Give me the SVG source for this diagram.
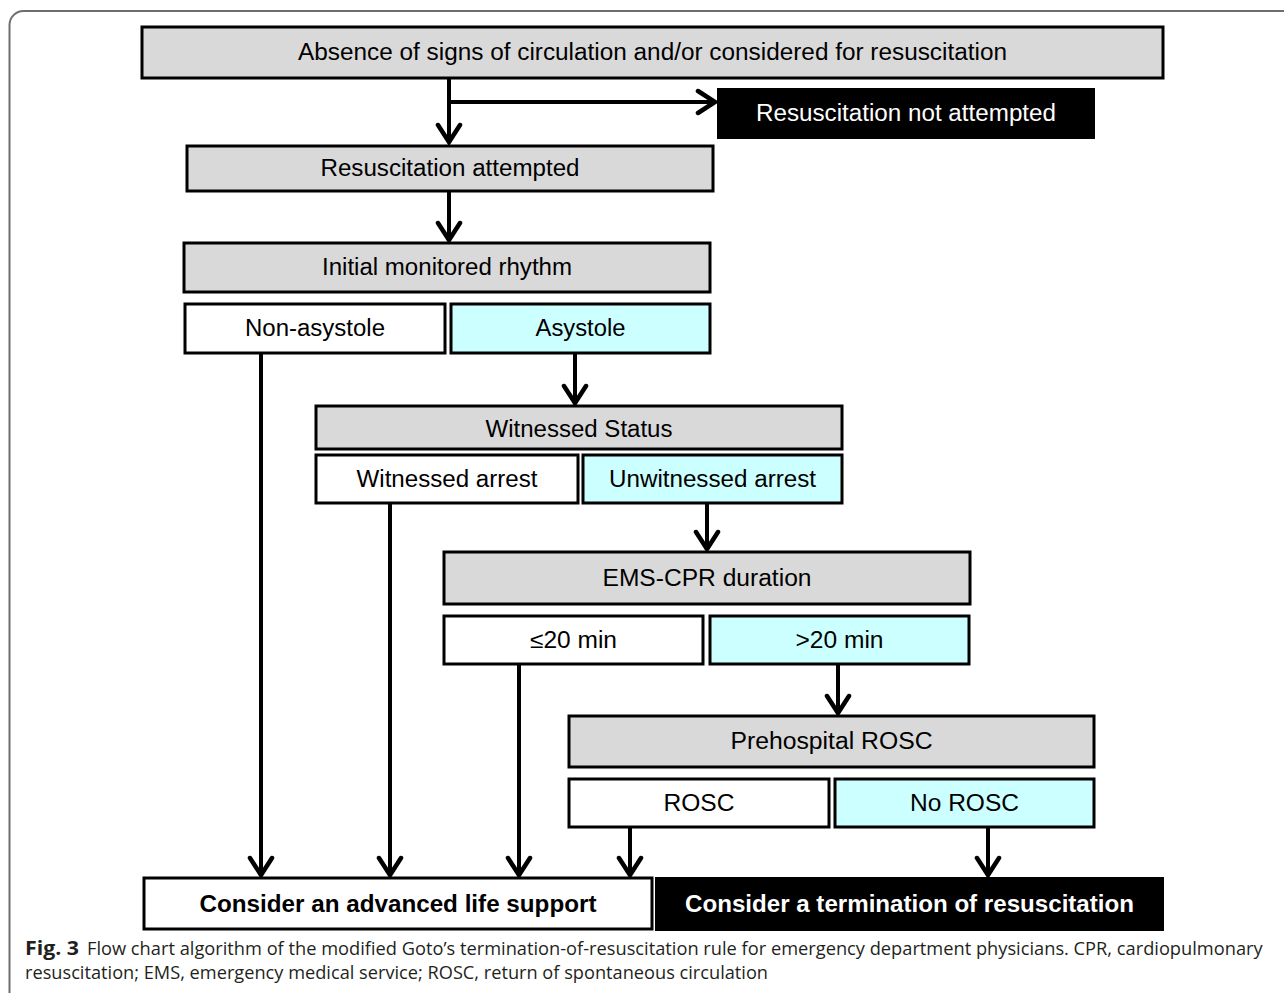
<svg xmlns="http://www.w3.org/2000/svg" width="1284" height="993" viewBox="0 0 1284 993">
<style>
.box{stroke:#000;stroke-width:3}
.gray{fill:#d9d9d9}
.white{fill:#fff}
.cyan{fill:#ccffff}
.black{fill:#000}
.t{font-family:"Liberation Sans",Arial,sans-serif;font-size:23px;fill:#000;text-anchor:middle}
.tw{fill:#fff}
.b{font-weight:bold}
.conn line{stroke:#000;stroke-width:4;fill:none}
.cap{font-family:"Open Sans","Noto Sans",sans-serif;font-size:19px;fill:#231f20}
</style>
<defs>
<marker id="ah" viewBox="-24 -14 28 28" refX="0" refY="0" markerWidth="28" markerHeight="28" markerUnits="userSpaceOnUse" orient="auto">
<path d="M-18,-11 L-1,0 L-18,11" fill="none" stroke="#000" stroke-width="4.5" stroke-linecap="round"/>
</marker>
</defs>
<rect x="0" y="0" width="1284" height="993" fill="#fff"/>
<rect x="9.5" y="11" width="1320" height="1020" rx="14" fill="none" stroke="#6e6e6e" stroke-width="2"/>

<g class="conn">
<line x1="449" y1="78" x2="449" y2="143" marker-end="url(#ah)"/>
<line x1="449" y1="102" x2="716" y2="102" marker-end="url(#ah)"/>
<line x1="449" y1="191" x2="449" y2="241" marker-end="url(#ah)"/>
<line x1="575" y1="353" x2="575" y2="404" marker-end="url(#ah)"/>
<line x1="261" y1="353" x2="261" y2="876" marker-end="url(#ah)"/>
<line x1="390" y1="503" x2="390" y2="876" marker-end="url(#ah)"/>
<line x1="707" y1="503" x2="707" y2="550" marker-end="url(#ah)"/>
<line x1="519" y1="664" x2="519" y2="876" marker-end="url(#ah)"/>
<line x1="838" y1="664" x2="838" y2="714" marker-end="url(#ah)"/>
<line x1="630" y1="827" x2="630" y2="876" marker-end="url(#ah)"/>
<line x1="988" y1="827" x2="988" y2="876" marker-end="url(#ah)"/>
</g>

<g id="n-absence"><rect class="box gray" x="142" y="27" width="1021" height="51"/><text class="t" x="652.5" y="60" textLength="709" lengthAdjust="spacingAndGlyphs">Absence of signs of circulation and/or considered for resuscitation</text></g>
<g id="n-not-attempted"><rect class="black" x="717" y="88" width="378" height="51"/><text class="t tw" x="906" y="121" textLength="300" lengthAdjust="spacingAndGlyphs">Resuscitation not attempted</text></g>
<g id="n-attempted"><rect class="box gray" x="187" y="146" width="526" height="45"/><text class="t" x="450" y="176" textLength="259" lengthAdjust="spacingAndGlyphs">Resuscitation attempted</text></g>
<g id="n-rhythm"><rect class="box gray" x="184" y="243" width="526" height="49"/><text class="t" x="447" y="275" textLength="250" lengthAdjust="spacingAndGlyphs">Initial monitored rhythm</text></g>
<g id="n-nonasystole"><rect class="box white" x="185" y="304" width="260" height="49"/><text class="t" x="315" y="336" textLength="140" lengthAdjust="spacingAndGlyphs">Non-asystole</text></g>
<g id="n-asystole"><rect class="box cyan" x="451" y="304" width="259" height="49"/><text class="t" x="580.5" y="336" textLength="90" lengthAdjust="spacingAndGlyphs">Asystole</text></g>
<g id="n-witnessed-status"><rect class="box gray" x="316" y="406" width="526" height="43"/><text class="t" x="579" y="437" textLength="187" lengthAdjust="spacingAndGlyphs">Witnessed Status</text></g>
<g id="n-witnessed"><rect class="box white" x="316" y="455" width="262" height="48"/><text class="t" x="447" y="487" textLength="181" lengthAdjust="spacingAndGlyphs">Witnessed arrest</text></g>
<g id="n-unwitnessed"><rect class="box cyan" x="583" y="455" width="259" height="48"/><text class="t" x="712.5" y="487" textLength="207" lengthAdjust="spacingAndGlyphs">Unwitnessed arrest</text></g>
<g id="n-ems"><rect class="box gray" x="444" y="552" width="526" height="52"/><text class="t" x="707" y="586" textLength="209" lengthAdjust="spacingAndGlyphs">EMS-CPR duration</text></g>
<g id="n-le20"><rect class="box white" x="444" y="616" width="259" height="48"/><text class="t" x="573.5" y="648" textLength="87" lengthAdjust="spacingAndGlyphs">≤20 min</text></g>
<g id="n-gt20"><rect class="box cyan" x="710" y="616" width="259" height="48"/><text class="t" x="839.5" y="648" textLength="88" lengthAdjust="spacingAndGlyphs">&gt;20 min</text></g>
<g id="n-prehospital"><rect class="box gray" x="569" y="716" width="525" height="51"/><text class="t" x="831.5" y="749" textLength="202" lengthAdjust="spacingAndGlyphs">Prehospital ROSC</text></g>
<g id="n-rosc"><rect class="box white" x="569" y="779" width="260" height="48"/><text class="t" x="699" y="811" textLength="71" lengthAdjust="spacingAndGlyphs">ROSC</text></g>
<g id="n-norosc"><rect class="box cyan" x="835" y="779" width="259" height="48"/><text class="t" x="964.5" y="811" textLength="109" lengthAdjust="spacingAndGlyphs">No ROSC</text></g>
<g id="n-als"><rect class="box white" x="144" y="878" width="508" height="51"/><text class="t b" x="398" y="912" textLength="397" lengthAdjust="spacingAndGlyphs">Consider an advanced life support</text></g>
<g id="n-tor"><rect class="black" x="655" y="877" width="509" height="54"/><text class="t tw b" x="909.5" y="912" textLength="449" lengthAdjust="spacingAndGlyphs">Consider a termination of resuscitation</text></g>

<g id="caption">
<text class="cap" x="25" y="955" font-weight="bold" textLength="54" lengthAdjust="spacingAndGlyphs">Fig. 3</text>
<text class="cap" transform="translate(87,955) scale(0.86,1)" x="0" y="0" textLength="1367" lengthAdjust="spacingAndGlyphs">Flow chart algorithm of the modified Goto’s termination-of-resuscitation rule for emergency department physicians. CPR, cardiopulmonary</text>
<text class="cap" transform="translate(25,979) scale(0.86,1)" x="0" y="0" textLength="864" lengthAdjust="spacingAndGlyphs">resuscitation; EMS, emergency medical service; ROSC, return of spontaneous circulation</text>
</g>
</svg>
